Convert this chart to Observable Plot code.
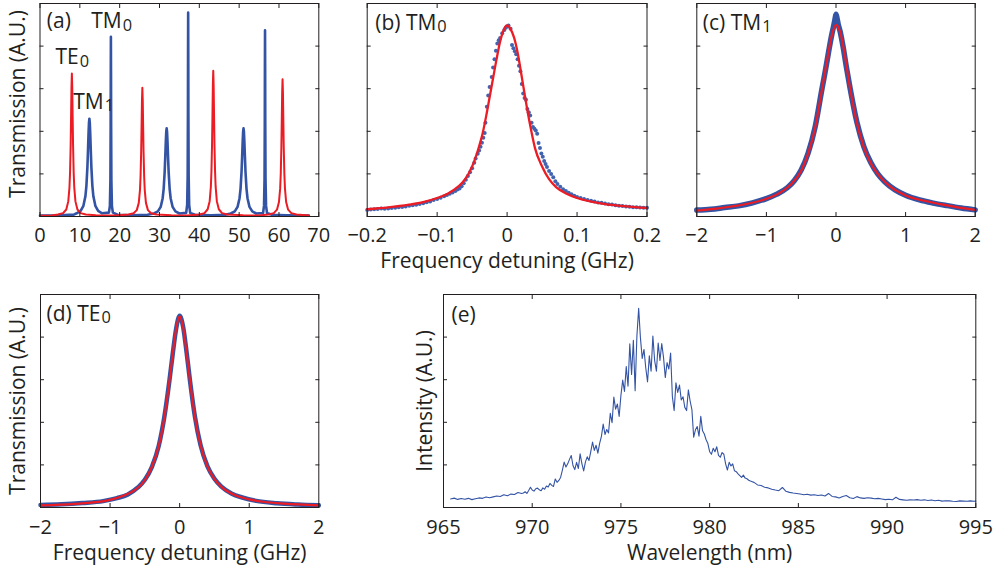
<!DOCTYPE html>
<html><head><meta charset="utf-8">
<script src="https://cdn.jsdelivr.net/npm/d3@7"></script>
<script src="https://cdn.jsdelivr.net/npm/@observablehq/plot@0.6"></script>
<style>
body{margin:0;background:#fff;}
#fig{position:relative;width:1004px;height:572px;overflow:hidden;background:#fff;}
#fig svg{position:absolute;overflow:visible;}
</style></head><body><div id="fig"></div>
<script>
// ---------- data ----------
const yTicks = [0, 0.2, 0.4, 0.6, 0.8, 1];
const aTicksX = [0, 10, 20, 30, 40, 50, 60, 70];
const bTicksX = [-0.2, -0.1, 0, 0.1, 0.2];
const cdTicksX = [-2, -1, 0, 1, 2];
const eTicksX = [965, 970, 975, 980, 985, 990, 995];

// (a) transmission spectrum
const aBlueX = [0,5,8.5,9.2,10.2,10.9,11.4,11.65,11.9,12.05,12.2,12.3,12.4,12.5,12.6,12.75,12.9,13.15,13.4,13.9,14.6,15.6,17.3,17.55,17.68,17.74,17.77,17.8,17.83,17.86,17.92,18.05,18.3,19.5,23,27,28.6,29.6,30.3,30.8,31.05,31.3,31.45,31.6,31.7,31.8,31.9,32.0,32.15,32.3,32.55,32.8,33.3,34.0,35.0,36.7,36.95,37.08,37.14,37.17,37.2,37.23,37.26,37.32,37.45,37.7,38.9,43,46.5,47.9,48.9,49.6,50.1,50.35,50.6,50.75,50.9,51.0,51.1,51.2,51.3,51.45,51.6,51.85,52.1,52.6,53.3,54.3,56.0,56.25,56.38,56.44,56.47,56.5,56.53,56.56,56.62,56.75,57.0,58.2,62,67.5];
const aBlueY = [0.004,0.006,0.009,0.015,0.026,0.05,0.095,0.144,0.232,0.31,0.396,0.441,0.459,0.441,0.396,0.31,0.232,0.144,0.095,0.05,0.026,0.015,0.018,0.05,0.172,0.424,0.674,0.844,0.674,0.424,0.172,0.05,0.018,0.008,0.006,0.008,0.014,0.024,0.045,0.086,0.13,0.209,0.279,0.357,0.398,0.414,0.398,0.357,0.279,0.209,0.13,0.086,0.045,0.024,0.014,0.017,0.055,0.194,0.484,0.764,0.957,0.764,0.484,0.194,0.055,0.017,0.008,0.006,0.008,0.014,0.024,0.045,0.086,0.13,0.209,0.279,0.357,0.398,0.414,0.398,0.357,0.279,0.209,0.13,0.086,0.045,0.024,0.014,0.016,0.051,0.178,0.439,0.704,0.874,0.704,0.439,0.178,0.051,0.016,0.008,0.006,0.005];
const aRedX = [0,3,4.5,5.8,6.6,7.1,7.4,7.55,7.7,7.8,7.9,8.0,8.1,8.2,8.3,8.45,8.6,8.9,9.4,10.2,11.5,14,19,22.2,23.5,24.3,24.8,25.1,25.25,25.4,25.5,25.6,25.7,25.8,25.9,26.0,26.15,26.3,26.6,27.1,27.9,29.2,33,37,40.0,41.3,42.1,42.6,42.9,43.05,43.2,43.3,43.4,43.5,43.6,43.7,43.8,43.95,44.1,44.4,44.9,45.7,47.0,51,55,57.4,58.7,59.5,60.0,60.3,60.45,60.6,60.7,60.8,60.9,61.0,61.1,61.2,61.35,61.5,61.8,62.3,63.1,64.4,67.5];
const aRedY = [0.004,0.005,0.009,0.016,0.033,0.071,0.137,0.209,0.338,0.466,0.604,0.671,0.604,0.466,0.338,0.209,0.137,0.071,0.033,0.016,0.009,0.006,0.005,0.009,0.015,0.03,0.064,0.124,0.189,0.304,0.419,0.544,0.604,0.544,0.419,0.304,0.189,0.124,0.064,0.03,0.015,0.009,0.006,0.005,0.009,0.016,0.034,0.072,0.14,0.214,0.344,0.474,0.616,0.684,0.616,0.474,0.344,0.214,0.14,0.072,0.034,0.016,0.009,0.006,0.005,0.009,0.016,0.032,0.068,0.132,0.201,0.324,0.447,0.58,0.644,0.58,0.447,0.324,0.201,0.132,0.068,0.032,0.016,0.009,0.005];
const aNoteText = ["(a)", "TM_0", "TE_0", "TM_1"];
const aNoteX = [1.7, 12.85, 3.9, 8.35];
const aNoteY = [0.883, 0.883, 0.714, 0.507];

// (b) TM0 resonance
const bFitX = [-0.2,-0.17,-0.14,-0.12,-0.1,-0.085,-0.07,-0.06,-0.05,-0.04,-0.035,-0.03,-0.025,-0.02,-0.015,-0.01,-0.005,0,0.005,0.01,0.015,0.02,0.025,0.03,0.035,0.04,0.05,0.06,0.07,0.085,0.1,0.12,0.14,0.17,0.2];
const bFitY = [0.034,0.043,0.056,0.068,0.087,0.107,0.14,0.175,0.235,0.33,0.39,0.47,0.56,0.65,0.74,0.82,0.875,0.897,0.88,0.84,0.77,0.675,0.575,0.48,0.395,0.32,0.235,0.175,0.138,0.107,0.087,0.07,0.058,0.048,0.040];
const bDataX = [-0.200,-0.195,-0.190,-0.185,-0.180,-0.175,-0.170,-0.165,-0.160,-0.155,-0.150,-0.145,-0.140,-0.135,-0.130,-0.125,-0.120,-0.115,-0.110,-0.105,-0.100,-0.095,-0.090,-0.086,-0.082,-0.078,-0.074,-0.071,-0.068,-0.065,-0.062,-0.059,-0.056,-0.053,-0.050,-0.047,-0.045,-0.042,-0.040,-0.038,-0.036,-0.034,-0.032,-0.031,-0.029,-0.027,-0.025,-0.022,-0.020,-0.018,-0.016,-0.014,-0.012,-0.010,-0.007,-0.004,-0.002,0.000,0.002,0.005,0.007,0.009,0.011,0.013,0.015,0.017,0.019,0.021,0.023,0.025,0.027,0.029,0.031,0.033,0.035,0.037,0.039,0.041,0.043,0.045,0.047,0.049,0.051,0.053,0.055,0.057,0.060,0.063,0.066,0.069,0.072,0.076,0.080,0.084,0.088,0.092,0.096,0.100,0.105,0.110,0.115,0.120,0.125,0.130,0.135,0.140,0.145,0.150,0.155,0.160,0.165,0.170,0.175,0.180,0.185,0.190,0.195,0.200];
const bDataY = [0.031,0.033,0.034,0.035,0.037,0.036,0.038,0.040,0.041,0.043,0.045,0.047,0.050,0.053,0.055,0.059,0.062,0.067,0.071,0.077,0.082,0.088,0.095,0.101,0.107,0.113,0.120,0.127,0.132,0.142,0.156,0.172,0.190,0.208,0.226,0.252,0.272,0.295,0.310,0.328,0.346,0.370,0.392,0.440,0.515,0.568,0.608,0.655,0.700,0.738,0.778,0.812,0.828,0.838,0.860,0.876,0.886,0.892,0.897,0.882,0.805,0.790,0.776,0.762,0.738,0.708,0.682,0.622,0.578,0.556,0.548,0.505,0.490,0.474,0.440,0.420,0.412,0.404,0.388,0.345,0.322,0.296,0.280,0.260,0.246,0.232,0.214,0.200,0.184,0.165,0.152,0.140,0.128,0.120,0.112,0.104,0.097,0.091,0.087,0.082,0.078,0.074,0.070,0.066,0.064,0.061,0.058,0.056,0.053,0.051,0.049,0.047,0.046,0.044,0.043,0.042,0.041,0.041];

// (c) TM1 resonance
const cFitX = [-2,-1.75,-1.5,-1.25,-1,-0.8,-0.65,-0.5,-0.4,-0.3,-0.2,-0.13,-0.06,0,0.06,0.12,0.2,0.3,0.4,0.5,0.65,0.8,1,1.25,1.5,1.75,2];
const cFitY = [0.028,0.036,0.047,0.061,0.083,0.112,0.15,0.215,0.295,0.415,0.6,0.73,0.85,0.9,0.865,0.77,0.605,0.44,0.325,0.25,0.18,0.135,0.099,0.075,0.058,0.043,0.031];
const cDataX = [-2,-1.8,-1.6,-1.4,-1.2,-1.0,-0.85,-0.7,-0.6,-0.5,-0.4,-0.3,-0.2,-0.15,-0.1,-0.06,-0.03,-0.015,0,0.015,0.03,0.06,0.1,0.15,0.2,0.3,0.4,0.5,0.6,0.7,0.85,1.0,1.2,1.4,1.6,1.8,2.0];
const cDataY = [0.03,0.034,0.042,0.05,0.064,0.084,0.105,0.135,0.168,0.218,0.298,0.42,0.602,0.69,0.785,0.855,0.9,0.925,0.95,0.93,0.905,0.868,0.8,0.7,0.607,0.443,0.328,0.253,0.2,0.163,0.125,0.1,0.078,0.063,0.051,0.04,0.031];

// (d) TE0 resonance
const dFitX = [-2,-1.5,-1.2,-1,-0.8,-0.65,-0.5,-0.4,-0.3,-0.25,-0.2,-0.15,-0.1,-0.05,0,0.05,0.1,0.15,0.2,0.25,0.3,0.4,0.5,0.6,0.8,1,1.2,1.5,2];
const dFitY = [0.01,0.017,0.025,0.036,0.056,0.08,0.128,0.19,0.29,0.365,0.465,0.585,0.72,0.84,0.897,0.845,0.725,0.59,0.467,0.368,0.293,0.192,0.133,0.097,0.057,0.038,0.027,0.018,0.01];
const dDataX = [-2,-1.7,-1.4,-1.1,-0.9,-0.75,-0.6,-0.5,-0.4,-0.3,-0.22,-0.15,-0.1,-0.05,0,0.05,0.1,0.15,0.22,0.3,0.4,0.5,0.6,0.75,0.9,1.1,1.4,1.7,2];
const dDataY = [0.012,0.015,0.021,0.03,0.044,0.06,0.094,0.13,0.19,0.29,0.425,0.588,0.72,0.84,0.9,0.848,0.728,0.592,0.425,0.293,0.193,0.135,0.098,0.065,0.047,0.031,0.02,0.014,0.01];

// (e) emission spectrum
const eWave = [965.4,965.6,965.8,966.0,966.2,966.4,966.6,966.8,967.0,967.2,967.4,967.6,967.8,968.0,968.2,968.4,968.6,968.8,969.0,969.2,969.4,
969.5,969.6,969.7,969.8,969.9,970.0,970.1,970.2,970.3,970.4,970.5,970.6,970.7,970.8,970.9,971.0,971.1,971.2,971.3,971.4,971.5,971.6,971.7,971.8,971.9,972.0,972.1,972.2,972.3,972.4,972.5,972.6,972.7,972.8,972.9,973.0,973.1,973.2,973.3,973.4,973.5,973.6,973.7,973.8,973.9,974.0,974.1,974.2,974.3,974.4,974.5,974.6,974.7,974.8,974.9,975.0,975.1,975.2,975.3,975.4,975.5,975.6,975.7,975.8,975.9,976.0,976.1,976.2,976.3,976.4,976.5,976.6,976.7,976.8,976.9,977.0,977.1,977.2,977.3,977.4,977.5,977.6,977.7,977.8,977.9,978.0,978.1,978.2,978.3,978.4,978.5,978.6,978.7,978.8,978.9,979.0,979.1,979.2,979.3,979.4,979.5,979.6,979.7,979.8,979.9,980.0,980.1,980.2,980.3,980.4,980.5,980.6,980.7,980.8,980.9,981.0,981.1,981.2,981.3,981.4,981.5,981.6,981.7,981.8,981.9,982.0,982.1,982.2,982.3,982.4,982.5,
982.7,982.9,983.1,983.3,983.5,983.7,983.9,984.1,984.3,984.5,984.7,984.9,985.1,985.3,985.5,985.7,985.9,986.1,986.3,986.5,986.7,986.9,987.1,987.3,987.5,987.7,987.9,988.1,988.3,988.5,988.7,988.9,989.1,989.3,989.5,989.7,989.9,990.1,990.3,990.5,990.7,990.9,991.1,991.3,991.5,991.7,991.9,992.1,992.3,992.5,992.7,992.9,993.1,993.3,993.5,993.7,993.9,994.1,994.3,994.5,994.7,994.9,995.0];
const eInt = [0.040,0.044,0.038,0.042,0.039,0.043,0.037,0.041,0.045,0.043,0.049,0.046,0.050,0.054,0.052,0.060,0.055,0.063,0.061,0.070,0.066,
0.068,0.074,0.066,0.080,0.095,0.082,0.077,0.088,0.091,0.083,0.079,0.092,0.086,0.101,0.096,0.113,0.104,0.099,0.134,0.118,0.127,0.141,0.176,0.213,0.190,0.205,0.226,0.244,0.196,0.178,0.212,0.183,0.252,0.206,0.172,0.214,0.238,0.221,0.262,0.307,0.268,0.292,0.255,0.301,0.334,0.392,0.343,0.366,0.350,0.442,0.398,0.518,0.462,0.486,0.428,0.527,0.598,0.545,0.662,0.570,0.768,0.625,0.785,0.548,0.805,0.935,0.795,0.700,0.742,0.655,0.590,0.712,0.640,0.805,0.690,0.640,0.772,0.690,0.770,0.705,0.610,0.680,0.650,0.725,0.520,0.455,0.585,0.540,0.575,0.505,0.520,0.470,0.455,0.552,0.500,0.460,0.330,0.365,0.380,0.335,0.428,0.360,0.345,0.318,0.300,0.262,0.250,0.278,0.262,0.285,0.245,0.236,0.258,0.250,0.205,0.176,0.212,0.195,0.205,0.172,0.168,0.158,0.150,0.141,0.152,0.138,0.135,0.128,0.124,0.121,0.118,
0.106,0.103,0.095,0.092,0.086,0.082,0.079,0.094,0.076,0.071,0.068,0.066,0.063,0.060,0.062,0.058,0.060,0.056,0.059,0.054,0.066,0.052,0.050,0.045,0.052,0.056,0.046,0.042,0.051,0.045,0.043,0.046,0.044,0.041,0.043,0.040,0.037,0.039,0.036,0.048,0.038,0.036,0.034,0.036,0.035,0.037,0.034,0.036,0.033,0.035,0.032,0.034,0.030,0.032,0.031,0.029,0.028,0.031,0.030,0.029,0.031,0.029,0.030];

// ---------- drawing ----------
const BLUE = "#3353a4", DOT = "#4264b0", RED = "#ec1c24", INK = "#231f20";
const FONT = "Open Sans";
const fig = document.getElementById("fig");
const zip = (xs, ys) => xs.map((x, i) => ({x, y: ys[i]}));
const fmt = d3.format("~g");

function addSubscripts(svg) {
  d3.select(svg).selectAll("text").each(function () {
    const t = this.textContent;
    if (!t.includes("_")) return;
    const [a, b] = t.split("_");
    const s = d3.select(this);
    s.text(null);
    s.append("tspan").text(a);
    s.append("tspan").attr("dx", 1).attr("dy", 2.5).attr("font-size", "0.78em").text(b);
  });
}

function panel(c) {
  const svg = Plot.plot({
    width: c.width, height: c.height,
    marginTop: c.mt, marginRight: c.mr, marginBottom: c.mb, marginLeft: c.ml,
    x: {domain: c.xDomain, axis: null},
    y: {domain: [0, 1], axis: null},
    style: {fontFamily: FONT, fontSize: "20px", color: INK, background: "transparent", overflow: "visible"},
    marks: [
      ...c.marks,
      Plot.frame({stroke: INK, strokeWidth: 1}),
      Plot.axisX(c.xTicks, {anchor: "bottom", tickSize: -4, tickPadding: c.pad, tickFormat: fmt, label: null, fontSize: 20, color: INK}),
      Plot.axisX(c.xTicks, {anchor: "top", tickSize: -4, tickFormat: () => "", label: null, color: INK}),
      Plot.axisY(yTicks, {anchor: "left", tickSize: -4, tickFormat: () => "", label: null, color: INK}),
      Plot.axisY(yTicks, {anchor: "right", tickSize: -4, tickFormat: () => "", label: null, color: INK}),
      ...c.texts
    ]
  });
  svg.style.left = c.left + "px";
  svg.style.top = c.top + "px";
  addSubscripts(svg);
  fig.appendChild(svg);
}

const corner = (label, dx, dy) => Plot.text([label], {text: d => d, frameAnchor: "top-left", dx, dy, textAnchor: "start", lineAnchor: "bottom", fontSize: 21, fill: INK});
const yTitle = (label, dx, dy) => Plot.text([label], {text: d => d, frameAnchor: "left", rotate: -90, dx, dy, textAnchor: "middle", lineAnchor: "middle", fontSize: 21, fill: INK});
const xTitle = (label, dy) => Plot.text([label], {text: d => d, frameAnchor: "bottom", dy, textAnchor: "middle", lineAnchor: "middle", fontSize: 21, fill: INK});

// (a)
panel({
  left: 0, top: 0, width: 330, height: 250, mt: 3, mr: 11.7, mb: 34, ml: 39.5,
  xDomain: [0, 70], xTicks: aTicksX, pad: 15,
  marks: [
    Plot.line(zip(aBlueX, aBlueY), {x: "x", y: "y", stroke: BLUE, strokeWidth: 2.6}),
    Plot.line(zip(aRedX, aRedY), {x: "x", y: "y", stroke: RED, strokeWidth: 2})
  ],
  texts: [
    Plot.text(aNoteText.map((t, i) => ({t, x: aNoteX[i], y: aNoteY[i]})), {x: "x", y: "y", text: "t", textAnchor: "start", lineAnchor: "bottom", fontSize: 21, fill: INK}),
    yTitle("Transmission (A.U.)", -22, -6)
  ]
});

// (b)
panel({
  left: 340, top: 0, width: 320, height: 290, mt: 3, mr: 13.5, mb: 74, ml: 26.7,
  xDomain: [-0.2, 0.2], xTicks: bTicksX, pad: 15,
  marks: [
    Plot.dot(zip(bDataX, bDataY), {x: "x", y: "y", r: 2, fill: DOT, stroke: null}),
    Plot.line(zip(bFitX, bFitY), {x: "x", y: "y", stroke: RED, strokeWidth: 2.3, curve: "monotone-x"})
  ],
  texts: [
    corner("(b) TM_0", 8, 26),
    xTitle("Frequency detuning (GHz)", 45)
  ]
});

// (c)
panel({
  left: 670, top: 0, width: 334, height: 250, mt: 3, mr: 29.3, mb: 34, ml: 26.3,
  xDomain: [-2, 2], xTicks: cdTicksX, pad: 15,
  marks: [
    Plot.line(zip(cDataX, cDataY), {x: "x", y: "y", stroke: BLUE, strokeWidth: 5.5, curve: "monotone-x"}),
    Plot.line(zip(cFitX, cFitY), {x: "x", y: "y", stroke: RED, strokeWidth: 2.2, curve: "monotone-x"})
  ],
  texts: [corner("(c) TM_1", 6, 26)]
});

// (d)
panel({
  left: 0, top: 280, width: 340, height: 292, mt: 14, mr: 21.7, mb: 65, ml: 40,
  xDomain: [-2, 2], xTicks: cdTicksX, pad: 16.5,
  marks: [
    Plot.line(zip(dDataX, dDataY), {x: "x", y: "y", stroke: BLUE, strokeWidth: 4.5, curve: "monotone-x"}),
    Plot.line(zip(dFitX, dFitY), {x: "x", y: "y", stroke: RED, strokeWidth: 2.2, curve: "monotone-x"})
  ],
  texts: [
    corner("(d) TE_0", 6, 26),
    yTitle("Transmission (A.U.)", -22, 0),
    xTitle("Frequency detuning (GHz)", 46)
  ]
});

// (e)
panel({
  left: 400, top: 280, width: 604, height: 292, mt: 14, mr: 28.7, mb: 65, ml: 43,
  xDomain: [965, 995], xTicks: eTicksX, pad: 16.5,
  marks: [
    Plot.line(zip(eWave, eInt), {x: "x", y: "y", stroke: BLUE, strokeWidth: 1.1})
  ],
  texts: [
    corner("(e)", 8, 27),
    yTitle("Intensity (A.U.)", -18, 0),
    xTitle("Wavelength (nm)", 46)
  ]
});
</script>
</body></html>
